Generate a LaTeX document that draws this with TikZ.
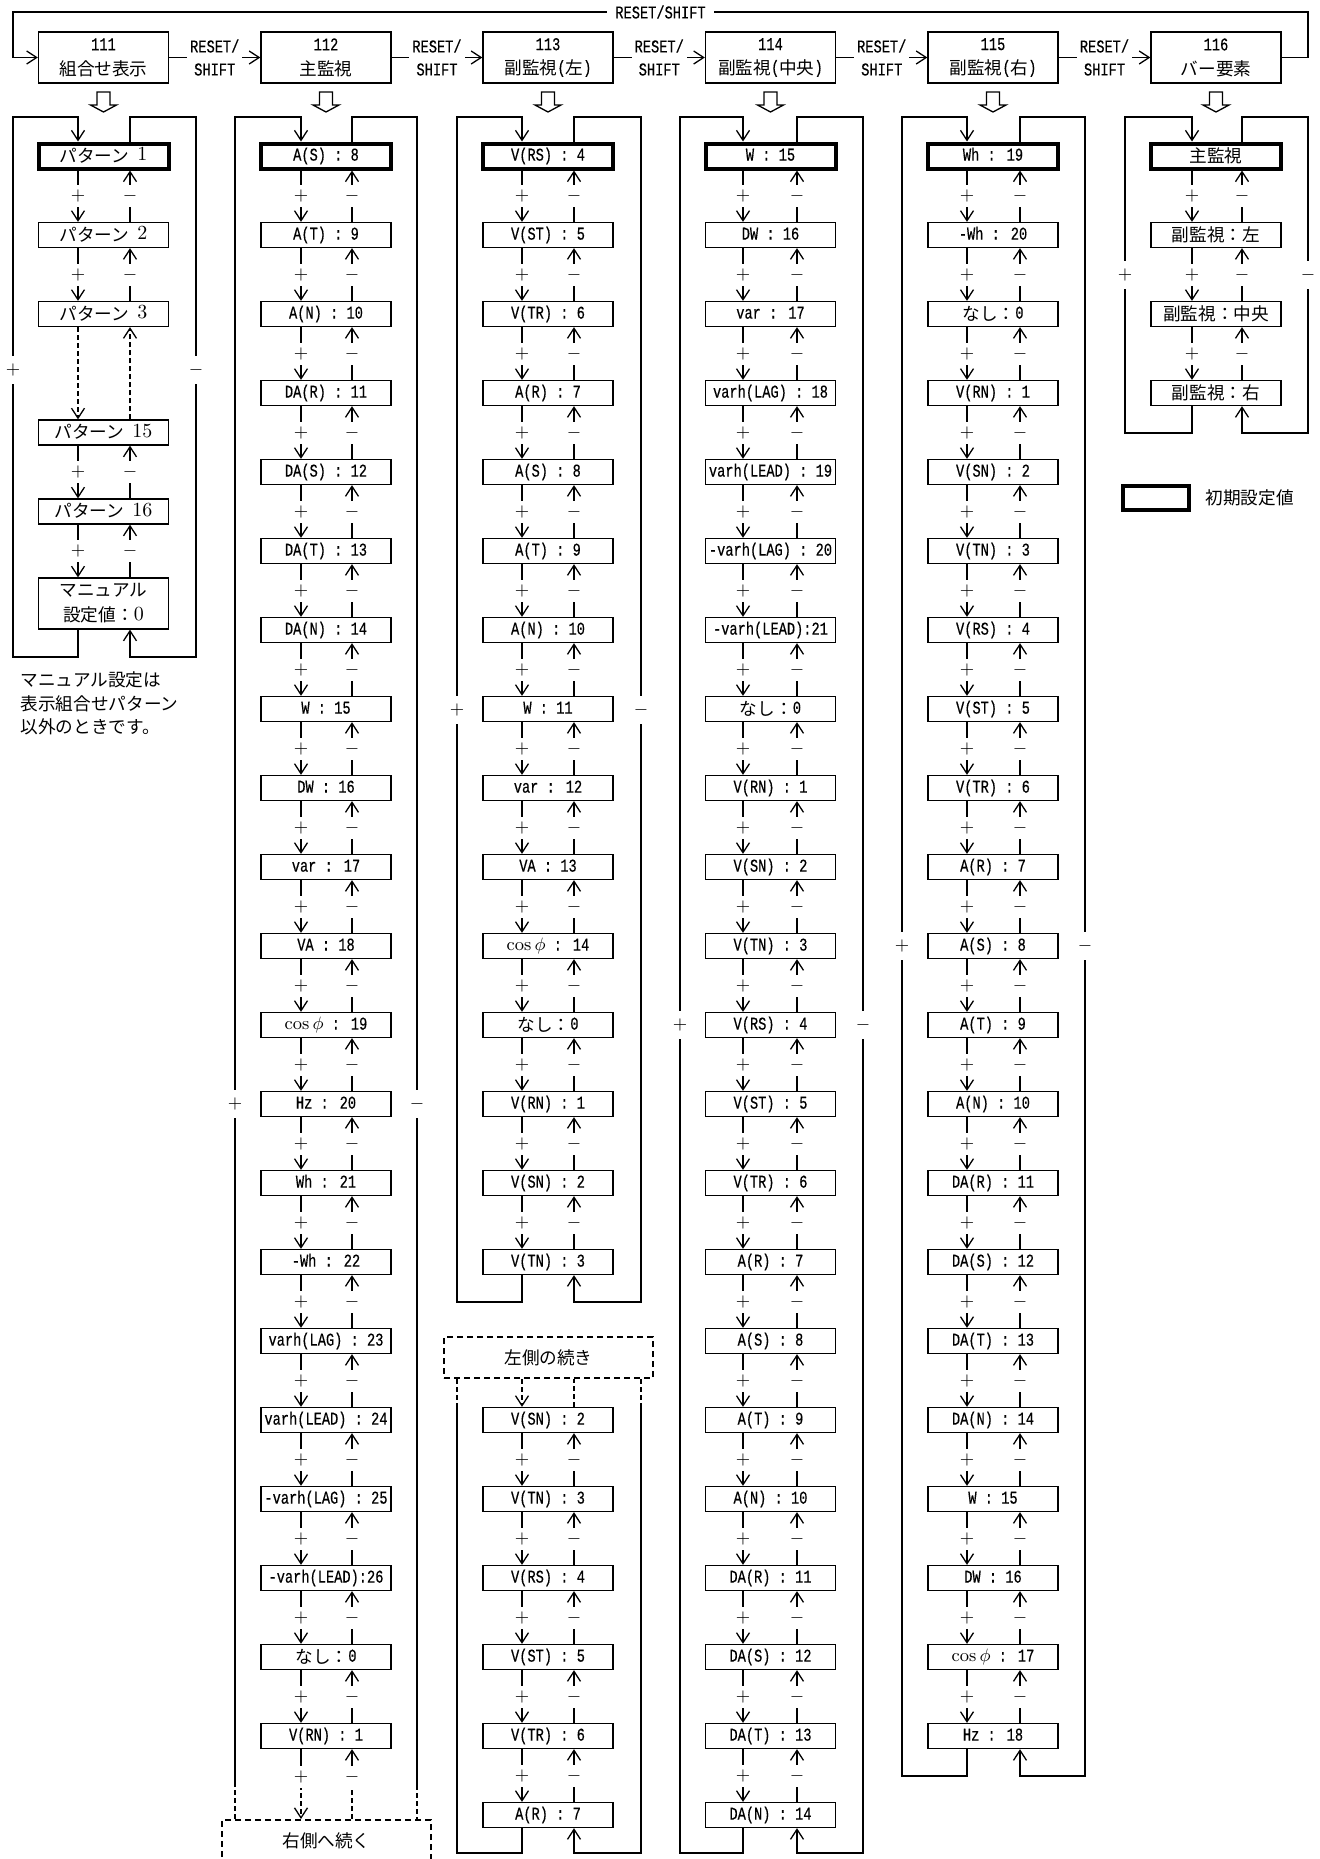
\documentclass[tikz,border=0pt]{standalone}
\usepackage{fontspec}
\usetikzlibrary{arrows.meta}
\newfontfamily\jpf[Scale=0.98]{Noto Sans CJK JP}
\newfontfamily\monof[FakeStretch=0.76, FakeBold=0.4]{Liberation Mono}
\newcommand{\jtxt}[1]{{\jpf\raisebox{-0.9pt}{#1}}}
\newcommand{\lmd}[1]{{\rmfamily\fontsize{10}{10}\selectfont #1}}

\tikzset{
  rowbox/.style={draw, fill=white, minimum width=65pt, minimum height=12.5pt, inner sep=0pt,
    text height=6.2pt, text depth=1.6pt, font=\monof\fontsize{9}{10}\selectfont},
  initbox/.style={rowbox, line width=2pt},
  rowboxtwo/.style={draw, fill=white, minimum width=65pt, minimum height=25.5pt, inner sep=0pt,
    align=center, font=\monof\fontsize{9}{12.5}\selectfont},
  headbox/.style={draw, fill=white, minimum width=65pt, minimum height=25.5pt, inner sep=0pt,
    align=center, font=\monof\fontsize{9}{11.5}\selectfont},
  lbl/.style={fill=white, inner xsep=1pt, inner ysep=0pt, minimum height=11pt, font=\fontsize{8.8}{10}\selectfont},
  sidelbl/.style={lbl, minimum height=14pt},
  rslbl/.style={fill=white, inner xsep=1.5pt, inner ysep=0pt, align=center, font=\monof\fontsize{9}{11.5}\selectfont},
  toplbl/.style={fill=white, inner xsep=4pt, inner ysep=1pt, font=\monof\fontsize{9}{10}\selectfont},
  contbox/.style={draw, line width=1pt, dash pattern=on 3pt off 2pt, fill=white, minimum width=104.5pt,
    minimum height=20.5pt, inner sep=0pt, font=\fontsize{9}{10}\selectfont},
  dsh/.style={dash pattern=on 2.5pt off 1.5pt},
  plaintxt/.style={inner sep=0pt, font=\fontsize{9}{11.75}\selectfont},
}

\newcommand{\hollowarrow}[1]{\draw ({#1-6.5},92) -- ({#1+6.5},92) -- ({#1+6.5},105) -- ({#1+13},105) -- (#1,112) -- ({#1-13},105) -- ({#1-6.5},105) -- cycle;}

\newcommand{\colrows}[4]{%
  \foreach \lab [count=\i from #3] in {#4}{%
    \node[rowbox] (#1r\i) at (#2,{156+79*\i}) {\lab};}}

\newcommand{\rowlinks}[3]{%
  \foreach \i in {#2,...,#3}{%
    \pgfmathtruncatemacro{\j}{\i+1}%
    \draw[->] (#1r\i.south -| #1d) -- node[lbl]{$+$} (#1r\j.north -| #1d);
    \draw[->] (#1r\j.north -| #1u) -- node[lbl]{$-$} (#1r\i.south -| #1u);}}

\newcommand{\loopframe}[8]{%
  \draw[->] (#1r#2.south -| #1d) -- (#3,#7) -- (#5,#7) -- (#5,#8) node[sidelbl]{$+$} -- (#5,117) -- (#3,117) -- (#1r0.north -| #1d);
  \draw[->] (#1r0.north -| #1u) -- (#4,117) -- (#6,117) -- (#6,#8) node[sidelbl]{$-$} -- (#6,#7) -- (#4,#7) -- (#1r#2.south -| #1u);}

\begin{document}
\begin{tikzpicture}[x=0.5pt, y=-0.5pt, line width=0.65pt, >={Straight Barb[length=5pt,width=6.5pt]}]
\useasboundingbox[fill=white] (0,0) rectangle (1319,1859);

% ---------- headers ----------
\node[headbox] (h1) at (103.5,57.5) {111\\\jtxt{組合せ表示}};
\node[headbox] (h2) at (326,57.5) {112\\\jtxt{主監視}};
\node[headbox] (h3) at (548,57.5) {113\\\jtxt{副監視}(\jtxt{左})};
\node[headbox] (h4) at (770.5,57.5) {114\\\jtxt{副監視}(\jtxt{中央})};
\node[headbox] (h5) at (993,57.5) {115\\\jtxt{副監視}(\jtxt{右})};
\node[headbox] (h6) at (1216,57.5) {116\\\jtxt{バー要素}};
\foreach \a/\b in {h1/h2,h2/h3,h3/h4,h4/h5,h5/h6}
  \draw[->] (\a.east) -- node[rslbl]{RESET/\\SHIFT} (\b.west);
\draw[->] (h6.east) -- (1308,57.5) -- (1308,12) -- node[toplbl]{RESET/SHIFT} (13,12) -- (13,57.5) -- (h1.west);

\foreach \cx in {103.5,326,548,770.5,993,1216} \hollowarrow{\cx};

% ---------- column coordinates ----------
\coordinate (c1d) at (78,0);   \coordinate (c1u) at (130,0);
\coordinate (c2d) at (301,0);  \coordinate (c2u) at (352,0);
\coordinate (c2L) at (235,0);  \coordinate (c2R) at (417,0);
\coordinate (c3d) at (522,0);  \coordinate (c3u) at (574,0);
\coordinate (c3L) at (457,0);  \coordinate (c3R) at (641,0);
\coordinate (c4d) at (743,0);  \coordinate (c4u) at (797,0);
\coordinate (c5d) at (967,0);  \coordinate (c5u) at (1020,0);
\coordinate (c6d) at (1192,0); \coordinate (c6u) at (1242,0);

% ---------- column 1 ----------
\node[initbox] (c1r0) at (103.5,156) {\jtxt{パターン} \lmd{1}};
\node[rowbox] (c1r1) at (103.5,235) {\jtxt{パターン} \lmd{2}};
\node[rowbox] (c1r2) at (103.5,314) {\jtxt{パターン} \lmd{3}};
\node[rowbox] (c1r3) at (103.5,432.5) {\jtxt{パターン} \lmd{15}};
\node[rowbox] (c1r4) at (103.5,511.5) {\jtxt{パターン} \lmd{16}};
\node[rowboxtwo] (c1r5) at (103.5,603.5) {\jtxt{マニュアル}\\\jtxt{設定値：}\lmd{0}};
\rowlinks{c1}{0}{1}
\draw[->,dsh] (c1r2.south -| c1d) -- (c1r3.north -| c1d);
\draw[->,dsh] (c1r3.north -| c1u) -- (c1r2.south -| c1u);
\rowlinks{c1}{3}{4}
\loopframe{c1}{5}{78}{130}{13}{196}{657}{370}
\node[plaintxt, anchor=west, align=left] (note) at (20,703.5)
  {\jtxt{マニュアル設定は}\\\jtxt{表示組合せパターン}\\\jtxt{以外のときです。}};

% ---------- column 2 ----------
\node[initbox] (c2r0) at (326,156) {A(S) : 8};
\colrows{c2}{326}{1}{A(T) : 9, A(N) : 10, DA(R) : 11, DA(S) : 12, DA(T) : 13, DA(N) : 14, W : 15, DW : 16,
  var : 17, VA : 18, {$\cos\phi$ : 19}, Hz : 20, Wh : 21, -Wh : 22, varh(LAG) : 23, varh(LEAD) : 24,
  -varh(LAG) : 25, -varh(LEAD):26, {\jtxt{なし：}0}, V(RN) : 1}
\rowlinks{c2}{0}{19}
\node[contbox] (c2cont) at (326.5,1840.5) {\jtxt{右側へ続く}};
\draw[->] (235,1785) -- (235,1104) node[sidelbl]{$+$} -- (235,117) -- (301,117) -- (c2r0.north -| c2d);
\draw (c2r0.north -| c2u) -- (352,117) -- (417,117) -- (417,1104) node[sidelbl]{$-$} -- (417,1785);
\draw[dsh] (c2cont.north -| c2L) -- (235,1785);
\draw[dsh] (417,1785) -- (c2cont.north -| c2R);
\draw (c2r20.south -| c2d) -- (301,1777) coordinate (c2pm);
\draw[dsh,->] (c2pm) -- (c2cont.north -| c2d);
\node[lbl] at (c2pm) {$+$};
\draw[dsh] (c2cont.north -| c2u) -- (352,1777) coordinate (c2mm);
\draw[->] (c2mm) -- (c2r20.south -| c2u);
\node[lbl] at (c2mm) {$-$};

% ---------- column 3 ----------
\node[initbox] (c3r0) at (548,156) {V(RS) : 4};
\colrows{c3}{548}{1}{V(ST) : 5, V(TR) : 6, A(R) : 7, A(S) : 8, A(T) : 9, A(N) : 10, W : 11, var : 12,
  VA : 13, {$\cos\phi$ : 14}, {\jtxt{なし：}0}, V(RN) : 1, V(SN) : 2, V(TN) : 3}
\rowlinks{c3}{0}{13}
\loopframe{c3}{14}{522}{574}{457}{641}{1302}{710}
\node[contbox] (c3cont) at (548.5,1357.5) {\jtxt{左側の続き}};
\colrows{c3}{548}{16}{V(SN) : 2, V(TN) : 3, V(RS) : 4, V(ST) : 5, V(TR) : 6, A(R) : 7}
\rowlinks{c3}{16}{20}
\draw[dsh,->] (c3cont.south -| c3d) -- (c3r16.north -| c3d);
\draw[dsh] (c3r16.north -| c3u) -- (c3cont.south -| c3u);
\draw[dsh] (c3cont.south -| c3L) -- (457,1405);
\draw (457,1405) -- (457,1853) -- (522,1853) -- (c3r21.south -| c3d);
\draw[dsh] (c3cont.south -| c3R) -- (641,1405);
\draw[->] (641,1405) -- (641,1853) -- (574,1853) -- (c3r21.south -| c3u);

% ---------- column 4 ----------
\node[initbox] (c4r0) at (770.5,156) {W : 15};
\colrows{c4}{770.5}{1}{DW : 16, var : 17, varh(LAG) : 18, varh(LEAD) : 19, -varh(LAG) : 20, -varh(LEAD):21,
  {\jtxt{なし：}0}, V(RN) : 1, V(SN) : 2, V(TN) : 3, V(RS) : 4, V(ST) : 5, V(TR) : 6, A(R) : 7, A(S) : 8,
  A(T) : 9, A(N) : 10, DA(R) : 11, DA(S) : 12, DA(T) : 13, DA(N) : 14}
\rowlinks{c4}{0}{20}
\loopframe{c4}{21}{743}{797}{680}{863}{1853}{1025}

% ---------- column 5 ----------
\node[initbox] (c5r0) at (993,156) {Wh : 19};
\colrows{c5}{993}{1}{-Wh : 20, {\jtxt{なし：}0}, V(RN) : 1, V(SN) : 2, V(TN) : 3, V(RS) : 4, V(ST) : 5,
  V(TR) : 6, A(R) : 7, A(S) : 8, A(T) : 9, A(N) : 10, DA(R) : 11, DA(S) : 12, DA(T) : 13, DA(N) : 14,
  W : 15, DW : 16, {$\cos\phi$ : 17}, Hz : 18}
\rowlinks{c5}{0}{19}
\loopframe{c5}{20}{967}{1020}{902}{1085}{1776}{946}

% ---------- column 6 ----------
\node[initbox] (c6r0) at (1216,156) {\jtxt{主監視}};
\colrows{c6}{1216}{1}{{\jtxt{副監視：左}}, {\jtxt{副監視：中央}}, {\jtxt{副監視：右}}}
\rowlinks{c6}{0}{2}
\loopframe{c6}{3}{1192}{1242}{1125}{1308}{433}{275}

% ---------- legend ----------
\node[initbox, minimum width=33pt, minimum height=12pt] (legbox) at (1156,498) {};
\node[plaintxt, anchor=west] (legtxt) at (1205,498) {\jtxt{初期設定値}};
\end{tikzpicture}
\end{document}
